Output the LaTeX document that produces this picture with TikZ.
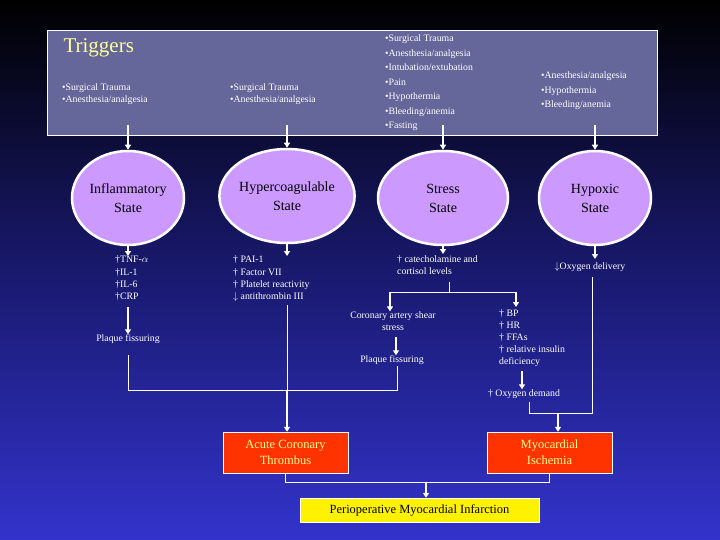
\documentclass[tikz,border=0pt]{standalone}
\usepackage{fontspec}
\setmainfont{Liberation Serif}
\usetikzlibrary{shapes.geometric,arrows.meta}
\definecolor{bgblue}{RGB}{51,51,204}
\definecolor{trig}{RGB}{101,102,154}
\definecolor{lav}{RGB}{204,153,255}
\definecolor{redbox}{RGB}{255,51,0}
\definecolor{ytxt}{RGB}{255,255,153}
\tikzset{
 sm/.style={text=white,font=\fontsize{9.8}{12}\selectfont,align=left,inner sep=0pt},
 st/.style={ellipse,draw=white,line width=2.5pt,fill=lav,minimum width=112pt,minimum height=94pt,font=\fontsize{14}{19}\selectfont,align=center,inner sep=0pt},
 rb/.style={draw=white,fill=redbox,minimum width=125pt,minimum height=41pt,text=ytxt,font=\fontsize{12.5}{16}\selectfont,align=center},
 arr/.style={white,line width=1.6pt,-{Triangle[width=6pt,length=5pt]}},
 ln/.style={white,line width=1pt},
}
\begin{document}
\begin{tikzpicture}[x=1pt,y=-1pt]
\useasboundingbox (0,0) rectangle (720,540);
\shade[top color=black,bottom color=bgblue,middle color={rgb,255:red,25;green,25;blue,110}] (0,0) rectangle (720,540);
\node[draw=white,fill=trig,minimum width=610pt,minimum height=105pt,anchor=north west,inner sep=0pt] (box) at (47,30) {};
\node[anchor=west,text=ytxt,font=\fontsize{21}{24}\selectfont] (trg) at (60,48) {Triggers};
\node[sm,anchor=north west] (t1) at (62,84) {\textbullet Surgical Trauma\\ \textbullet Anesthesia/analgesia};
\node[sm,anchor=north west] (t2) at (230,84) {\textbullet Surgical Trauma\\ \textbullet Anesthesia/analgesia};
\node[sm,anchor=north west,font=\fontsize{9.8}{14.5}\selectfont] (t3) at (385,35) {\textbullet Surgical Trauma\\ \textbullet Anesthesia/analgesia\\ \textbullet Intubation/extubation\\ \textbullet Pain\\ \textbullet Hypothermia\\ \textbullet Bleeding/anemia\\ \textbullet Fasting};
\node[sm,anchor=north west,font=\fontsize{9.8}{14.5}\selectfont] (t4) at (541,72) {\textbullet Anesthesia/analgesia\\ \textbullet Hypothermia\\ \textbullet Bleeding/anemia};
\node[st] (e1) at (128,198) {Inflammatory\\State};
\node[st] (e2) at (287,196) {Hypercoagulable\\State};
\node[st,minimum width=130pt] (e3) at (443,198) {Stress\\State};
\node[st] (e4) at (595,198) {Hypoxic\\State};
\coordinate (a1) at (128,125); \coordinate (a2) at (287,125); \coordinate (a3) at (443,125); \coordinate (a4) at (595,125);
\foreach \i in {1,2,3,4}{\draw[arr] (a\i) -- (e\i.north);}
\node[sm,anchor=north west] (l1) at (115,256) {\textdagger TNF-$\alpha$\\ \textdagger IL-1\\ \textdagger IL-6\\ \textdagger CRP};
\node[sm,anchor=north west] (l2) at (233,256) {\textdagger\ PAI-1\\ \textdagger\ Factor VII\\ \textdagger\ Platelet reactivity\\ $\downarrow$ antithrombin III};
\node[sm,anchor=north west] (l3) at (397,255) {\textdagger\ catecholamine and\\ cortisol levels};
\node[sm] (l4) at (590,267) {$\downarrow$Oxygen delivery};
\draw[arr] (e1.south) -- (128,256);
\draw[arr] (e2.south) -- (287,256);
\draw[arr] (e3.south) -- (443,254);
\draw[arr] (e4.south) -- (595,259);
\node[sm] (pf1) at (128,339) {Plaque fissuring};
\draw[arr] (128,307) -- (pf1.north);
\node[sm,align=center] (cas) at (393,321) {Coronary artery shear\\stress};
\node[sm] (pf2) at (392,360) {Plaque fissuring};
\node[sm,anchor=north west] (l5) at (499,309) {\textdagger\ BP\\ \textdagger\ HR\\ \textdagger\ FFAs\\ \textdagger\ relative insulin\\ deficiency};
\node[sm] (od) at (524,394) {\textdagger\ Oxygen demand};
\coordinate (s0) at (449,282);
\draw[ln] (s0) -- (449,292) coordinate (s1);
\draw[ln] (390,292) -- (516,292);
\draw[arr] (390,292) -- (cas.north -| 390,0);
\draw[arr] (516,292) -- (516,307);
\draw[arr] (396,337) -- (pf2.north -| 396,0);
\draw[arr] (522,371) -- (od.north -| 522,0);
\node[rb] (acs) at (285.5,452.5) {Acute Coronary\\Thrombus};
\node[rb] (mi) at (549.5,452.5) {Myocardial\\Ischemia};
\node[draw=white,fill=yellow,minimum width=239pt,minimum height=24pt,font=\fontsize{12.5}{15}\selectfont] (pmi) at (419.5,510) {Perioperative Myocardial Infarction};
\draw[ln] (128,355) -- (128,390) -- (397,390) -- (397,366);
\draw[ln] (287,305) -- (287,390);
\draw[arr] (287,390) -- (acs.north -| 287,0);
\draw[ln] (529,402) -- (529,413) -- (592,413) -- (592,277);
\draw[arr] (558,413) -- (mi.north -| 558,0);
\draw[ln] (acs.south) -- (285.5,482) -- (549.5,482) -- (mi.south);
\draw[arr] (426,482) -- (pmi.north -| 426,0);
\end{tikzpicture}
\end{document}
